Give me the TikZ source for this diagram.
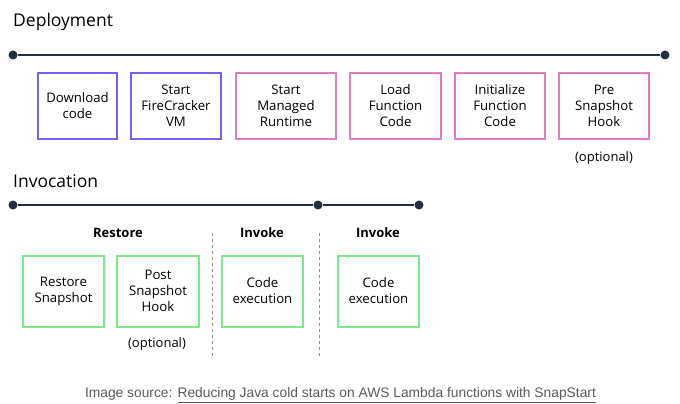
\documentclass[tikz,border=0pt]{standalone}
\usepackage{fontspec}
\setmainfont{Open Sans}
\newfontfamily\capfont{Liberation Sans}
\definecolor{navy}{HTML}{232F3E}
\definecolor{purp}{HTML}{7B5CF5}
\definecolor{pinkc}{HTML}{E07CC0}
\definecolor{greenc}{HTML}{7DE88C}
\definecolor{capgray}{HTML}{5A5A5A}
\definecolor{dashgray}{HTML}{8A8F96}
\begin{document}
\begin{tikzpicture}[x=1pt,y=-1pt,
  boxtxt/.style={align=center,font=\fontsize{13.2}{16}\selectfont,text=black,inner sep=0pt,line width=2pt},
  pbox/.style={boxtxt,draw=purp,minimum height=66pt},
  kbox/.style={boxtxt,draw=pinkc,minimum height=66pt},
  gbox/.style={boxtxt,draw=greenc,minimum height=71pt},
  dot/.style={circle,fill=navy,inner sep=0pt,minimum size=9pt},
  tline/.style={draw=navy,line width=1.6pt},
  title/.style={anchor=west,font=\fontsize{17.5}{20}\selectfont,inner sep=0pt},
  phase/.style={font=\bfseries\fontsize{13}{15}\selectfont,inner sep=0pt},
  opt/.style={font=\fontsize{13}{15}\selectfont,inner sep=0pt},
  sep/.style={draw=dashgray,line width=0.9pt,dash pattern=on 3pt off 3pt}]
\useasboundingbox (0,0) rectangle (680,404);
% Deployment
\node[title] (deptitle) at (13,22) {Deployment};
\node[dot] (da) at (13,55) {};
\node[dot] (db) at (665,55) {};
\draw[tline] (da) -- (db);
\node[pbox,minimum width=79pt] (d1) at (77.5,106) {Download\\code};
\node[pbox,minimum width=90pt] (d2) at (176,106) {Start\\FireCracker\\VM};
\node[kbox,minimum width=100pt] (d3) at (286,106) {Start\\Managed\\Runtime};
\node[kbox,minimum width=91pt] (d4) at (395.5,106) {Load\\Function\\Code};
\node[kbox,minimum width=90pt] (d5) at (500,106) {Initialize\\Function\\Code};
\node[kbox,minimum width=90pt] (d6) at (604,106) {Pre\\Snapshot\\Hook};
\node[opt] (o1) at (604,158) {(optional)};
% Invocation
\node[title] (invtitle) at (13,181) {Invocation};
\node[dot] (ia) at (13,205) {};
\node[dot] (ib) at (318,205) {};
\node[dot] (ic) at (419,205) {};
\draw[tline] (ia) -- (ib) -- (ic);
\node[phase] (p1) at (118,233) {Restore};
\node[phase] (p2) at (262,233) {Invoke};
\node[phase] (p3) at (378,233) {Invoke};
\coordinate (s1a) at (212,233);
\coordinate (s1b) at (212,358);
\coordinate (s2a) at (319,233);
\coordinate (s2b) at (319,358);
\draw[sep] (s1a) -- (s1b);
\draw[sep] (s2a) -- (s2b);
\node[gbox,minimum width=81pt] (i1) at (63.5,291) {Restore\\Snapshot};
\node[gbox,minimum width=82pt] (i2) at (158,291) {Post\\Snapshot\\Hook};
\node[gbox,minimum width=81pt] (i3) at (262.5,291) {Code\\execution};
\node[gbox,minimum width=81pt] (i4) at (378.5,291) {Code\\execution};
\node[opt] (o2) at (157,344) {(optional)};
% caption
\node[font=\capfont\fontsize{13.8}{16}\selectfont,text=capgray,inner sep=0pt] (cap) at (340.5,395) {Image source: \underline{Reducing Java cold starts on AWS Lambda functions with SnapStart}};
\end{tikzpicture}
\end{document}
